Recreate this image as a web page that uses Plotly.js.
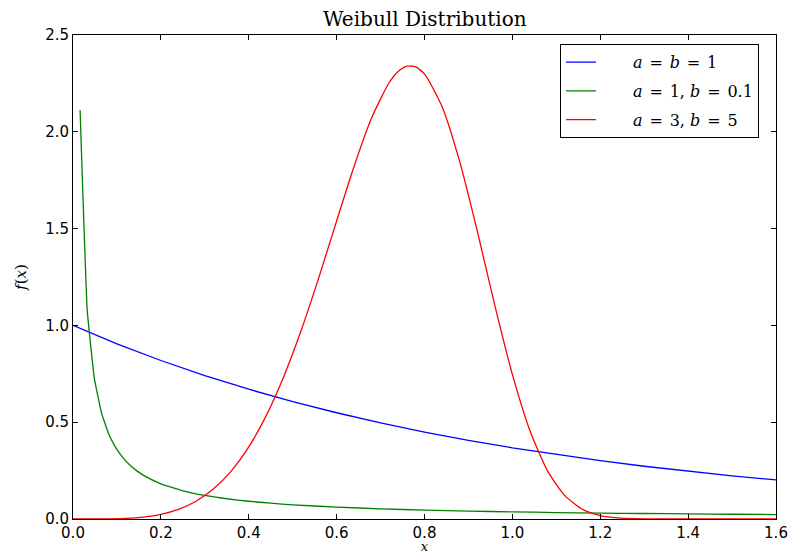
<!DOCTYPE html>
<html>
<head>
<meta charset="utf-8">
<script src="https://cdn.plot.ly/plotly-3.0.1.min.js"></script>
<style>html,body{margin:0;padding:0;background:#fff;}</style>
</head>
<body>
<div id="chart" style="width:794px;height:554px;"></div>
<script>
// a = b = 1
var xBlue = [0, 0.1, 0.2, 0.3, 0.4, 0.5, 0.6, 0.7, 0.8, 0.9, 1.0, 1.1, 1.2, 1.3, 1.4, 1.5, 1.6];
var yBlue = [1.0, 0.9048, 0.8187, 0.7408, 0.6703, 0.6065, 0.5488, 0.4966, 0.4493, 0.4066, 0.3679, 0.3329, 0.3012, 0.2725, 0.2466, 0.2231, 0.2019];

// a = 1, b = 0.1
var xGreen = [0.01616, 0.03232, 0.04848, 0.06465, 0.08081, 0.09697, 0.11313, 0.12929, 0.14545, 0.16162, 0.2, 0.25, 0.3, 0.35, 0.4, 0.45, 0.5, 0.6, 0.7, 0.8, 0.9, 1.0, 1.1, 1.2, 1.3, 1.4, 1.5, 1.6];
var yGreen = [2.1127, 1.0796, 0.7279, 0.5498, 0.4422, 0.3699, 0.3181, 0.2790, 0.2485, 0.2241, 0.1817, 0.1458, 0.1218, 0.1046, 0.0916, 0.0815, 0.0734, 0.0612, 0.0525, 0.0460, 0.0409, 0.0368, 0.0334, 0.0307, 0.0283, 0.0263, 0.0245, 0.0230];

// a = 3, b = 5
var xRed = [0, 0.04, 0.08, 0.12, 0.16, 0.2, 0.24, 0.28, 0.32, 0.36, 0.4, 0.44, 0.48, 0.52, 0.56, 0.6, 0.64, 0.68, 0.72, 0.74, 0.76, 0.78, 0.8, 0.84, 0.88, 0.92, 0.96, 1.0, 1.04, 1.08, 1.12, 1.16, 1.2, 1.24, 1.28, 1.32, 1.4, 1.5, 1.6];
var yRed = [0, 0.00004, 0.0006, 0.0031, 0.0098, 0.0240, 0.0496, 0.0917, 0.1557, 0.2474, 0.3724, 0.5351, 0.7377, 0.9785, 1.2505, 1.5395, 1.8236, 2.0734, 2.2559, 2.3116, 2.3389, 2.3351, 2.2990, 2.1298, 1.8469, 1.4879, 1.1037, 0.7468, 0.4561, 0.2485, 0.1194, 0.0498, 0.0178, 0.0054, 0.0013, 0.0003, 0, 0, 0];

var SP = '&#8196;&#8202;';
var legendNames = [
  '<i>a</i>' + SP + '=' + SP + '<i>b</i>' + SP + '=' + SP + '1',
  '<i>a</i>' + SP + '=' + SP + '1, <i>b</i>' + SP + '=' + SP + '0.1',
  '<i>a</i>' + SP + '=' + SP + '3, <i>b</i>' + SP + '=' + SP + '5'
];
var PAD = '&#8194;&#8194;&#8194;&#8197;&#8197;';

var traces = [
  {x: xBlue, y: yBlue, mode: 'lines', name: PAD + legendNames[0], legendgroup: 'g1', line: {color: '#0000ff', width: 1.3}},
  {x: xGreen, y: yGreen, mode: 'lines', name: PAD + legendNames[1], legendgroup: 'g2', line: {color: '#008000', width: 1.3, shape: 'spline', smoothing: 0.3}},
  {x: xRed, y: yRed, mode: 'lines', name: PAD + legendNames[2], legendgroup: 'g3', line: {color: '#ff0000', width: 1.3, shape: 'spline', smoothing: 0.6}}
];

var tickFont = {family: 'DejaVu Sans', size: 15, color: '#000'};
var serif = 'DejaVu Serif';

var layout = {
  width: 794, height: 554,
  margin: {l: 73, r: 18, t: 35, b: 35},
  paper_bgcolor: '#fff', plot_bgcolor: '#fff',
  showlegend: true,
  title: {text: 'Weibull Distribution', font: {family: serif, size: 20, color: '#000'}, x: 0.535, xanchor: 'center', y: 0.965, yanchor: 'middle'},
  xaxis: {
    range: [0, 1.6], tickvals: [0, 0.2, 0.4, 0.6, 0.8, 1.0, 1.2, 1.4, 1.6],
    ticktext: ['0.0', '0.2', '0.4', '0.6', '0.8', '1.0', '1.2', '1.4', '1.6'],
    ticks: 'inside', ticklen: 5, tickcolor: '#000', mirror: 'allticks',
    showline: true, linecolor: '#000', linewidth: 1, showgrid: false, zeroline: false,
    tickfont: tickFont,
    title: {text: '<i>x</i>', font: {family: serif, size: 13, color: '#000'}, standoff: 4}
  },
  yaxis: {
    range: [0, 2.5], tickvals: [0, 0.5, 1.0, 1.5, 2.0, 2.5],
    ticktext: ['0.0', '0.5', '1.0', '1.5', '2.0', '2.5'],
    ticks: 'inside', ticklen: 5, tickcolor: '#000', mirror: 'allticks',
    showline: true, linecolor: '#000', linewidth: 1, showgrid: false, zeroline: false,
    tickfont: tickFont,
    title: {text: '<i>f</i>(<i>x</i>)', font: {family: serif, size: 15, color: '#000'}, standoff: 14}
  },
  legend: {
    x: 0.6927, y: 0.981, xanchor: 'left', yanchor: 'top',
    bordercolor: '#000', borderwidth: 1, bgcolor: '#fff',
    font: {family: serif, size: 16, color: '#000'},
    tracegroupgap: 5, itemwidth: 30
  }
};

Plotly.newPlot('chart', traces, layout, {displayModeBar: false, staticPlot: true});
</script>
</body>
</html>
